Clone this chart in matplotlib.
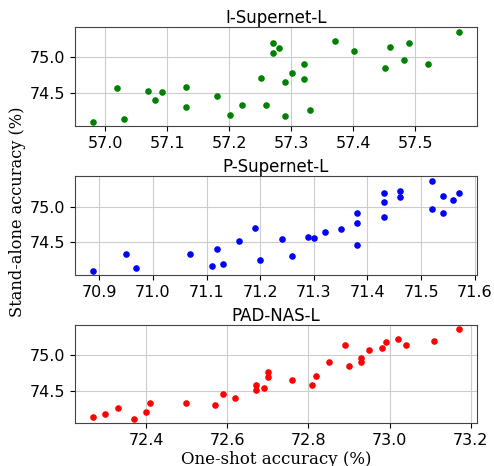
import matplotlib
matplotlib.use("Agg")
import matplotlib.pyplot as plt

titles = ["I-Supernet-L", "P-Supernet-L", "PAD-NAS-L"]
colors = ["green", "blue", "red"]

i_x = [56.981, 57.020, 57.031, 57.070, 57.081, 57.091, 57.131, 57.131, 57.181, 57.201,
       57.220, 57.251, 57.260, 57.270, 57.270, 57.281, 57.290, 57.290, 57.301, 57.320,
       57.320, 57.331, 57.370, 57.401, 57.451, 57.460, 57.481, 57.490, 57.520, 57.570]
i_y = [74.10, 74.565, 74.135, 74.53, 74.40, 74.51, 74.575, 74.30, 74.46, 74.19,
       74.33, 74.71, 74.33, 75.19, 75.06, 75.13, 74.65, 74.17, 74.77, 74.90,
       74.69, 74.26, 75.22, 75.09, 74.84, 75.14, 74.96, 75.20, 74.90, 75.355]

p_x = [70.889, 70.950, 70.969, 71.070, 71.110, 71.120, 71.130, 71.160, 71.190, 71.200,
       71.240, 71.260, 71.290, 71.300, 71.320, 71.350, 71.380, 71.380, 71.380, 71.430,
       71.430, 71.430, 71.460, 71.460, 71.520, 71.520, 71.540, 71.540, 71.560, 71.570]
p_y = [74.10, 74.33, 74.13, 74.33, 74.165, 74.40, 74.19, 74.51, 74.70, 74.25,
       74.54, 74.30, 74.575, 74.565, 74.65, 74.68, 74.905, 74.765, 74.46, 75.19,
       75.065, 74.85, 75.225, 75.14, 75.37, 74.97, 75.145, 74.905, 75.095, 75.20]

d_x = [72.270, 72.300, 72.330, 72.370, 72.400, 72.410, 72.499, 72.570, 72.589, 72.620,
       72.670, 72.670, 72.690, 72.700, 72.700, 72.760, 72.809, 72.819, 72.850, 72.890,
       72.900, 72.930, 72.930, 72.950, 72.980, 72.990, 73.020, 73.040, 73.110, 73.170]
d_y = [74.135, 74.18, 74.26, 74.11, 74.20, 74.33, 74.33, 74.30, 74.46, 74.40,
       74.575, 74.51, 74.54, 74.77, 74.69, 74.65, 74.585, 74.71, 74.905, 75.135,
       74.845, 74.96, 74.905, 75.065, 75.10, 75.19, 75.225, 75.145, 75.205, 75.36]

xs = [i_x, p_x, d_x]
ys = [i_y, p_y, d_y]
yticks = [74.5, 75.0]

W, H = 494, 466
fig = plt.figure(figsize=(W / 100, H / 100), dpi=100)
boxes = [(75, 27, 477, 126), (75, 176, 477, 275), (75, 325, 477, 423)]
for k, (l, t, r, b) in enumerate(boxes):
    ax = fig.add_axes([l / W, 1 - b / H, (r - l) / W, (b - t) / H])
    ax.scatter(xs[k], ys[k], s=14, color=colors[k], zorder=3)
    ax.set_title(titles[k], fontsize=12, pad=3)
    ax.set_yticks(yticks)
    ax.grid(True, color="#cccccc", linewidth=0.8)
    ax.set_axisbelow(True)
    ax.tick_params(labelsize=11.5)
    for s in ax.spines.values():
        s.set_color("#444444")
    if k == 2:
        ax.set_xlabel("One-shot accuracy (%)", family="DejaVu Serif", fontsize=12, labelpad=2)

fig.text(18 / W, 1 - 212 / H, "Stand-alone accuracy (%)", family="DejaVu Serif", fontsize=11.7,
         rotation=90, ha="center", va="center")

fig.savefig("out.png", dpi=100)
